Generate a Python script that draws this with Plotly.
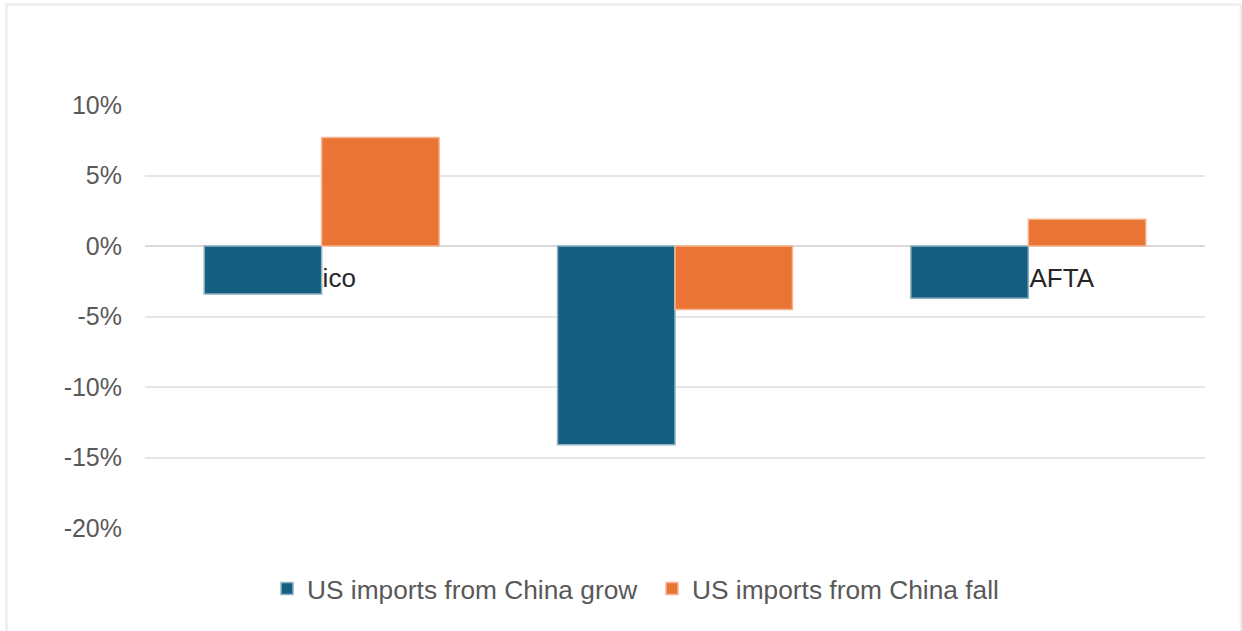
import plotly.graph_objects as go

categories = ["Mexico", "Canada", "Total NAFTA"]
grow_vals = [-3.4, -14.1, -3.7]
fall_vals = [7.7, -4.5, 1.9]
y_ticks = [-20, -15, -10, -5, 0, 5, 10]
y_ticktext = ["-20%", "-15%", "-10%", "-5%", "0%", "5%", "10%"]

W, H = 1242, 631
L, R, T, B = 145, 37, 105, 103
pw, ph = W - L - R, H - T - B

fig = go.Figure()
fig.add_trace(go.Bar(
    x=categories, y=grow_vals, name="US imports from China grow",
    marker=dict(color="#165E80", line=dict(color="#8fb2c4", width=1.5)),
))
fig.add_trace(go.Bar(
    x=categories, y=fall_vals, name="US imports from China fall",
    marker=dict(color="#EA7434", line=dict(color="#f6b590", width=1.5)),
))

def px_x(p):
    return (p - L) / pw

def px_y(p):
    return (H - B - p) / ph

fig.update_layout(
    width=W, height=H,
    margin=dict(l=L, r=R, t=T, b=B, autoexpand=False),
    paper_bgcolor="white", plot_bgcolor="white",
    barmode="group", bargap=0.335, bargroupgap=0,
    font=dict(family="Liberation Sans, Arial, sans-serif", color="#595959"),
    showlegend=True,
    legend=dict(
        orientation="h", x=px_x(652), xanchor="center",
        y=px_y(589), yanchor="middle",
        font=dict(size=26.3, color="#595959"),
        bgcolor="rgba(0,0,0,0)",
        entrywidth=340, entrywidthmode="pixels",
    ),
    xaxis=dict(
        anchor="free", position=2 / 3, layer="below traces",
        showgrid=False, showline=False, zeroline=False,
        ticks="", ticklabelstandoff=14, ticklabelshift=-7,
        tickfont=dict(size=26, color="#262626"),
        fixedrange=True,
    ),
    yaxis=dict(
        range=[-20, 10], tickvals=y_ticks, ticktext=y_ticktext,
        showgrid=True, gridcolor="#e6e6e6", gridwidth=2,
        zeroline=True, zerolinecolor="#d9d9d9", zerolinewidth=2,
        showline=False, ticks="", ticklabelstandoff=22,
        tickfont=dict(size=25, color="#595959"),
        fixedrange=True,
    ),
    shapes=[dict(
        type="rect", xref="paper", yref="paper",
        x0=px_x(6.5), x1=px_x(1241), y0=px_y(660), y1=px_y(4.5),
        line=dict(color="#eeeeee", width=2.5), fillcolor="rgba(0,0,0,0)",
        layer="below",
    )],
)

fig.write_html(
    "out.html",
    config={"displayModeBar": False},
    post_script="document.body.style.margin='0';document.body.style.overflow='hidden';",
)
